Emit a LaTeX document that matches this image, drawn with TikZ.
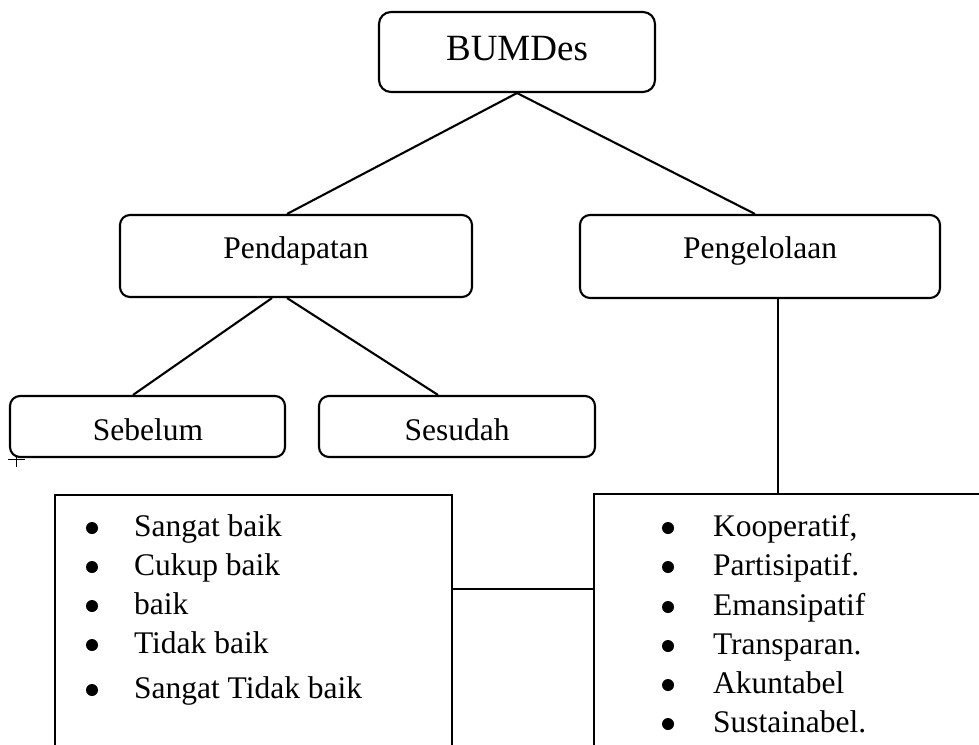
\documentclass[tikz,border=0pt]{standalone}
\usepackage{fontspec}
\setmainfont{Liberation Serif}
\begin{document}
\begin{tikzpicture}[x=1pt,y=-1pt,
  line width=2.1pt,
  rbox/.style={draw, rounded corners=10pt, inner sep=0pt},
  lbox/.style={draw, inner sep=0pt},
  txt/.style={anchor=base, inner sep=0pt, font=\fontsize{31.5}{38}\selectfont},
  itm/.style={anchor=base west, inner sep=0pt, font=\fontsize{31.5}{38}\selectfont}]
\useasboundingbox (0,0) rectangle (979,744);
\clip (0,0) rectangle (979,744);
% boxes
\node[rbox, rounded corners=12pt, minimum width=276, minimum height=80] (bumdes) at (517,52) {};
\node[anchor=base, inner sep=0pt, font=\fontsize{37}{44}\selectfont] (bumdesT) at (517,60) {BUMDes};
\node[rbox, minimum width=352, minimum height=82] (pend) at (296,256) {};
\node[txt] (pendT) at (296,258) {Pendapatan};
\node[rbox, minimum width=360, minimum height=83] (peng) at (760,256.5) {};
\node[txt] (pengT) at (760,258) {Pengelolaan};
\node[rbox, minimum width=275, minimum height=61] (sebelum) at (147.5,426.5) {};
\node[txt] (sebelumT) at (148,440) {Sebelum};
\node[rbox, minimum width=276, minimum height=61] (sesudah) at (457,426.5) {};
\node[txt] (sesudahT) at (457,440) {Sesudah};
\node[lbox, minimum width=397, minimum height=305] (left) at (253.5,647.5) {};
\node[lbox, minimum width=406, minimum height=306] (right) at (797,647) {};
% connectors
\draw (bumdes.south) -- (pend.north -| 287,0);
\draw (bumdes.south) -- (peng.north -| 755,0);
\draw (pend.south -| 272,0) -- (sebelum.north -| 133,0);
\draw (pend.south -| 287,0) -- (sesudah.north -| 438,0);
\draw (peng.south -| 778,0) -- (right.north -| 778,0);
\draw (left.east |- 0,589) -- (right.west |- 0,589);
% small cross mark
\draw[line width=0.9pt] (8,459) -- (25,459) (16,455) -- (16,467);
% left list
\foreach \y/\t [count=\i] in {536/Sangat baik, 575/Cukup baik, 614/baik, 653/Tidak baik, 698/Sangat Tidak baik}{
  \fill (92,\y-8) circle (6);
  \node[itm] (l\i) at (133,\y) {\t};
}
% right list
\foreach \y/\t [count=\i] in {536/{Kooperatif,}, 575/Partisipatif., 615/Emansipatif, 654/Transparan., 693/Akuntabel, 732/Sustainabel.}{
  \fill (668,\y-8) circle (6);
  \node[itm] (r\i) at (712,\y) {\t};
}
\end{tikzpicture}
\end{document}
